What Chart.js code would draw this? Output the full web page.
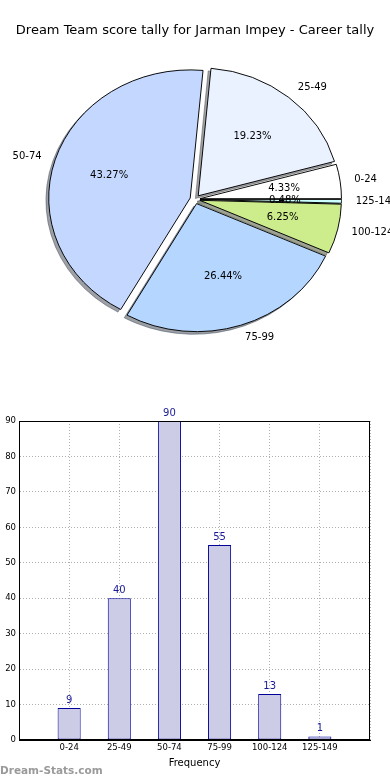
<!DOCTYPE html>
<html>
<head>
<meta charset="utf-8">
<script src="https://cdn.jsdelivr.net/npm/chart.js@4.4.0/dist/chart.umd.min.js"></script>
<style>
  html, body { margin: 0; padding: 0; background: #fff; }
  #wrap { position: relative; width: 390px; height: 780px; overflow: hidden; }
  #pie { position: absolute; left: 0; top: 0; }
  #bars { position: absolute; left: 0; top: 390px; }
  #brand { position: absolute; left: 0; top: 764px; font: bold 10.5px "DejaVu Sans", sans-serif; color: #9a9a9a; }
</style>
</head>
<body>
<div id="wrap">
  <canvas id="pie" width="390" height="390"></canvas>
  <canvas id="bars" width="390" height="390"></canvas>
  <div id="brand">Dream-Stats.com</div>
</div>
<script>
const categories = ['0-24', '25-49', '50-74', '75-99', '100-124', '125-149'];
const counts = [9, 40, 90, 55, 13, 1];
const sliceColors = ['#ffffff', '#ebf2ff', '#c4d8ff', '#b4d6ff', '#cdec8c', '#ccffff'];

const FONT = '"DejaVu Sans", sans-serif';
const SQUASH = 0.905;    // the pie is an ellipse in the original
const RADIUS = 141.5;
const EXPLODE = 5;

const total = counts.reduce((a, b) => a + b, 0);

function shadowColor(hex) {
    const n = parseInt(hex.slice(1), 16);
    const r = (n >> 16) & 255, g = (n >> 8) & 255, b = n & 255;
    return `rgba(${Math.round(r * 0.3)}, ${Math.round(g * 0.3)}, ${Math.round(b * 0.3)}, 0.5)`;
}

// pie slices are drawn here: squashed, exploded and with a shadow underneath
const pieLook = {
    id: 'pieLook',
    beforeDatasetDraw() {
        return false;
    },
    beforeDatasetsDraw(chart) {
        const ctx = chart.ctx;
        const arcs = chart.getDatasetMeta(0).data;
        const cx = arcs[0].x, cy = arcs[0].y;
        ctx.save();
        ctx.translate(cx, cy);
        ctx.scale(1, SQUASH);
        ctx.translate(-cx, -cy);

        arcs.forEach(arc => {
            const mid = (arc.startAngle + arc.endAngle) / 2;
            const x = arc.x + EXPLODE * Math.cos(mid) - 2.8;
            const y = arc.y + EXPLODE * Math.sin(mid) + 2.9;
            ctx.beginPath();
            ctx.moveTo(x, y);
            ctx.arc(x, y, arc.outerRadius, arc.startAngle, arc.endAngle);
            ctx.closePath();
            ctx.fillStyle = shadowColor(arc.options.backgroundColor);
            ctx.strokeStyle = shadowColor(arc.options.backgroundColor);
            ctx.lineWidth = 1;
            ctx.fill();
            ctx.stroke();
        });

        arcs.forEach(arc => {
            const mid = (arc.startAngle + arc.endAngle) / 2;
            ctx.save();
            ctx.translate(EXPLODE * Math.cos(mid), EXPLODE * Math.sin(mid));
            arc.draw(ctx);
            ctx.restore();
        });
        ctx.restore();
    },
    afterDatasetsDraw(chart) {
        const ctx = chart.ctx;
        const arcs = chart.getDatasetMeta(0).data;
        const labels = chart.data.labels;
        const values = chart.data.datasets[0].data;
        ctx.save();
        ctx.font = '10px ' + FONT;
        ctx.fillStyle = '#000';
        ctx.textBaseline = 'middle';
        arcs.forEach((arc, i) => {
            const mid = (arc.startAngle + arc.endAngle) / 2;
            const c = Math.cos(mid), s = Math.sin(mid);
            // percentage inside
            let d = EXPLODE + 0.6 * arc.outerRadius;
            ctx.textAlign = 'center';
            ctx.fillText((values[i] / total * 100).toFixed(2) + '%', arc.x + d * c, arc.y + SQUASH * d * s);
            // category name outside
            d = EXPLODE + 1.1 * arc.outerRadius;
            ctx.textAlign = c >= 0 ? 'left' : 'right';
            ctx.fillText(labels[i], arc.x + d * c, arc.y + SQUASH * d * s);
        });
        ctx.restore();
    }
};

// pie goes counter-clockwise from the east, so feed it reversed and clockwise
new Chart(document.getElementById('pie'), {
    type: 'pie',
    data: {
        labels: categories.slice().reverse(),
        datasets: [{
            data: counts.slice().reverse(),
            backgroundColor: sliceColors.slice().reverse(),
            borderColor: '#000',
            borderWidth: 1,
            radius: RADIUS,
            clip: false
        }]
    },
    options: {
        responsive: false,
        animation: false,
        devicePixelRatio: 1,
        rotation: 90,
        layout: { padding: { bottom: 40 } },
        plugins: {
            legend: { display: false },
            tooltip: { enabled: false },
            title: {
                display: true,
                text: 'Dream Team score tally for Jarman Impey - Career tally',
                color: '#000',
                font: { family: FONT, size: 13, weight: 'normal' },
                padding: { top: 23, bottom: 10 }
            }
        }
    },
    plugins: [pieLook]
});

// box round the plot and counts over the bars
const barExtras = {
    id: 'barExtras',
    afterDraw(chart) {
        const ctx = chart.ctx;
        const a = chart.chartArea;
        ctx.save();
        ctx.strokeStyle = '#000';
        ctx.lineWidth = 1;
        ctx.strokeRect(a.left + 0.5, a.top + 0.5, a.right - a.left - 1, a.bottom - a.top - 1);

        ctx.font = '10px ' + FONT;
        ctx.fillStyle = '#1a1a96';
        ctx.textAlign = 'center';
        ctx.textBaseline = 'alphabetic';
        const values = chart.data.datasets[0].data;
        chart.getDatasetMeta(0).data.forEach((bar, i) => {
            if (values[i] == null) return;
            ctx.fillText(values[i], bar.x, bar.y - 5);
        });
        ctx.restore();
    }
};

const tickFont = { family: FONT, size: 8.5 };

new Chart(document.getElementById('bars'), {
    type: 'bar',
    data: {
        labels: [''].concat(categories, ['']),
        datasets: [{
            data: [null].concat(counts, [null]),
            backgroundColor: '#ccccE6',
            borderColor: '#000099',
            borderWidth: 1,
            borderSkipped: false,
            barPercentage: 0.46,
            categoryPercentage: 1
        }]
    },
    options: {
        responsive: false,
        animation: false,
        devicePixelRatio: 1,
        layout: { padding: { top: 31, right: 20, left: 0, bottom: 0 } },
        plugins: {
            legend: { display: false },
            tooltip: { enabled: false }
        },
        scales: {
            x: {
                offset: false,
                z: 1,
                grid: { offset: false, color: '#b0b0b0', drawTicks: false },
                border: { color: '#000', dash: [1, 2] },
                ticks: { autoSkip: false, maxRotation: 0, padding: 3, color: '#000', font: tickFont },
                title: {
                    display: true,
                    text: 'Frequency',
                    color: '#000',
                    font: { family: FONT, size: 10 },
                    padding: { top: 2, bottom: 11 }
                },
                afterFit(scale) { scale.height = 40; }
            },
            y: {
                min: 0,
                max: 90,
                z: 1,
                grid: { color: '#b0b0b0', drawTicks: false },
                border: { color: '#000', dash: [1, 2] },
                ticks: { stepSize: 10, padding: 3, color: '#000', font: tickFont },
                afterFit(scale) { scale.width = 19; }
            }
        }
    },
    plugins: [barExtras]
});
</script>
</body>
</html>
